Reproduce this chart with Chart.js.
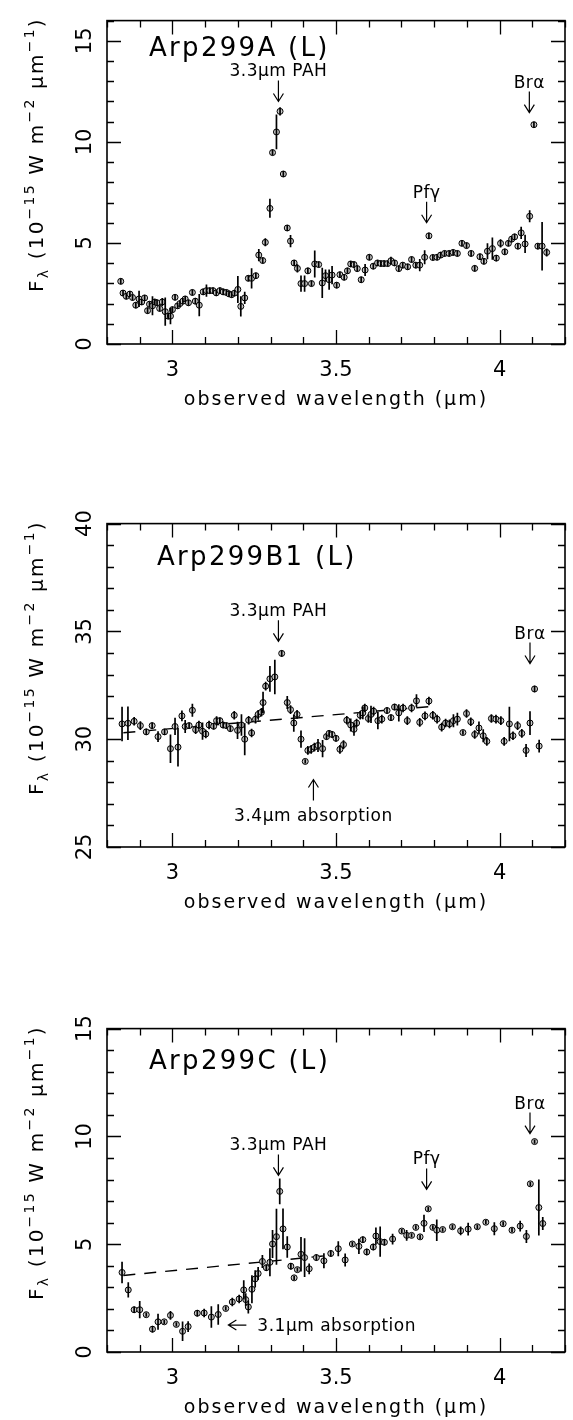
<!DOCTYPE html>
<html>
<head>
<meta charset="utf-8">
<script src="https://cdn.jsdelivr.net/npm/chart.js@4/dist/chart.umd.min.js"></script>
<style>
  html, body { margin: 0; padding: 0; background: #fff; }
  body { position: relative; width: 573px; height: 1420px; overflow: hidden; }
  canvas { position: absolute; left: 0; }
</style>
</head>
<body>
<canvas id="panelA" width="573" height="412" style="top:0px"></canvas>
<canvas id="panelB" width="573" height="412" style="top:503px"></canvas>
<canvas id="panelC" width="573" height="412" style="top:1008px"></canvas>
<script>
// Arp299A (L)
const aWave = [
  2.842, 2.849, 2.859, 2.870, 2.878, 2.888, 2.898, 2.906, 2.915, 2.924,
  2.930, 2.939, 2.946, 2.953, 2.961, 2.969, 2.978, 2.987, 2.994, 3.000,
  3.008, 3.016, 3.023, 3.032, 3.039, 3.049, 3.061, 3.070, 3.082, 3.094,
  3.104, 3.114, 3.124, 3.134, 3.145, 3.155, 3.165, 3.173, 3.181, 3.190,
  3.200, 3.209, 3.221, 3.232, 3.242, 3.255, 3.264, 3.276, 3.284, 3.298,
  3.306, 3.318, 3.329, 3.339, 3.351, 3.361, 3.372, 3.382, 3.393, 3.404,
  3.414, 3.425, 3.435, 3.447, 3.458, 3.468, 3.479, 3.488, 3.502, 3.512,
  3.525, 3.535, 3.545, 3.555, 3.565, 3.577, 3.589, 3.602, 3.614, 3.627,
  3.637, 3.647, 3.658, 3.668, 3.679, 3.692, 3.704, 3.719, 3.731, 3.744,
  3.756, 3.771, 3.784, 3.796, 3.809, 3.820, 3.832, 3.846, 3.858, 3.871,
  3.885, 3.899, 3.913, 3.924, 3.940, 3.952, 3.963, 3.978, 3.990, 4.003,
  4.016, 4.027, 4.037, 4.046, 4.056, 4.066, 4.078, 4.092, 4.105, 4.117,
  4.130, 4.144,
];
const aFlux = [
  3.10, 2.52, 2.36, 2.47, 2.30, 1.92, 2.23, 2.08, 2.28, 1.65,
  1.97, 1.89, 2.08, 2.04, 1.76, 2.08, 1.60, 1.38, 1.38, 1.70,
  2.31, 1.89, 2.00, 2.12, 2.23, 2.04, 2.55, 2.12, 1.92, 2.58,
  2.64, 2.64, 2.64, 2.53, 2.64, 2.58, 2.55, 2.48, 2.44, 2.52,
  2.70, 1.86, 2.28, 3.25, 3.25, 3.38, 4.40, 4.13, 5.03, 6.71,
  9.47, 10.49, 11.51, 8.41, 5.74, 5.09, 4.01, 3.74, 2.99, 2.99,
  3.62, 2.99, 3.96, 3.93, 3.02, 3.38, 3.18, 3.41, 2.91, 3.43,
  3.30, 3.62, 3.96, 3.93, 3.73, 3.18, 3.66, 4.29, 3.85, 4.01,
  3.98, 3.98, 3.98, 4.12, 4.01, 3.73, 3.90, 3.82, 4.18, 3.90,
  3.90, 4.29, 5.35, 4.28, 4.29, 4.40, 4.48, 4.48, 4.53, 4.48,
  4.98, 4.87, 4.48, 3.74, 4.32, 4.09, 4.59, 4.72, 4.25, 4.98,
  4.56, 4.98, 5.19, 5.30, 4.84, 5.50, 4.95, 6.32, 10.85, 4.84,
  4.84, 4.53,
];
const aErr = [
  0.15, 0.15, 0.15, 0.15, 0.15, 0.15, 0.40, 0.15, 0.15, 0.15,
  0.15, 0.47, 0.15, 0.15, 0.15, 0.20, 0.70, 0.15, 0.40, 0.15,
  0.15, 0.15, 0.15, 0.15, 0.15, 0.15, 0.15, 0.15, 0.55, 0.15,
  0.30, 0.15, 0.15, 0.15, 0.15, 0.15, 0.15, 0.15, 0.15, 0.15,
  0.67, 0.50, 0.30, 0.15, 0.50, 0.15, 0.30, 0.15, 0.20, 0.47,
  0.15, 0.86, 0.20, 0.15, 0.15, 0.30, 0.15, 0.20, 0.40, 0.40,
  0.15, 0.15, 0.67, 0.15, 0.75, 0.30, 0.50, 0.45, 0.15, 0.15,
  0.15, 0.15, 0.15, 0.15, 0.15, 0.15, 0.30, 0.15, 0.15, 0.15,
  0.15, 0.15, 0.15, 0.20, 0.15, 0.15, 0.15, 0.15, 0.15, 0.15,
  0.30, 0.35, 0.15, 0.15, 0.15, 0.15, 0.15, 0.15, 0.15, 0.15,
  0.15, 0.15, 0.15, 0.15, 0.15, 0.15, 0.40, 0.55, 0.15, 0.20,
  0.15, 0.15, 0.15, 0.15, 0.15, 0.30, 0.45, 0.30, 0.15, 0.15,
  1.20, 0.20,
];

// Arp299B1 (L)
const bWave = [
  2.846, 2.864, 2.883, 2.902, 2.920, 2.938, 2.956, 2.976, 2.994, 3.008,
  3.017, 3.029, 3.039, 3.051, 3.061, 3.071, 3.081, 3.092, 3.102, 3.112,
  3.126, 3.135, 3.145, 3.155, 3.165, 3.177, 3.189, 3.199, 3.211, 3.221,
  3.233, 3.242, 3.254, 3.262, 3.272, 3.277, 3.285, 3.298, 3.313, 3.334,
  3.351, 3.361, 3.371, 3.381, 3.393, 3.406, 3.414, 3.424, 3.434, 3.445,
  3.459, 3.471, 3.479, 3.488, 3.500, 3.512, 3.523, 3.533, 3.545, 3.555,
  3.563, 3.574, 3.582, 3.588, 3.599, 3.607, 3.615, 3.628, 3.640, 3.656,
  3.668, 3.679, 3.692, 3.705, 3.718, 3.731, 3.746, 3.756, 3.772, 3.784,
  3.796, 3.809, 3.823, 3.835, 3.847, 3.859, 3.871, 3.888, 3.899, 3.912,
  3.924, 3.937, 3.950, 3.961, 3.975, 3.989, 4.004, 4.014, 4.030, 4.041,
  4.055, 4.068, 4.081, 4.093, 4.107, 4.121,
];
const bFlux = [
  30.71, 30.74, 30.83, 30.63, 30.34, 30.63, 30.12, 30.34, 29.56, 30.59,
  29.63, 31.08, 30.59, 30.63, 31.34, 30.44, 30.66, 30.37, 30.24, 30.66,
  30.60, 30.86, 30.86, 30.66, 30.63, 30.49, 31.11, 30.41, 30.66, 30.00,
  30.88, 30.29, 30.93, 31.15, 31.25, 31.70, 32.46, 32.80, 32.89, 33.98,
  31.70, 31.37, 30.75, 31.15, 30.00, 28.97, 29.48, 29.53, 29.63, 29.71,
  29.56, 30.12, 30.27, 30.22, 30.04, 29.53, 29.75, 30.88, 30.66, 30.46,
  30.75, 31.11, 31.22, 31.45, 30.96, 31.15, 31.30, 30.86, 30.93, 31.33,
  31.00, 31.49, 31.22, 31.45, 30.86, 31.45, 31.78, 30.78, 31.08, 31.77,
  31.11, 30.93, 30.56, 30.75, 30.71, 30.86, 30.93, 30.31, 31.19, 30.81,
  30.22, 30.52, 30.16, 29.90, 30.96, 30.93, 30.86, 29.90, 30.71, 30.16,
  30.63, 30.27, 29.48, 30.75, 32.33, 29.68,
];
const bErr = [
  0.80, 0.78, 0.20, 0.20, 0.15, 0.15, 0.25, 0.15, 0.66, 0.40,
  0.90, 0.25, 0.30, 0.15, 0.30, 0.20, 0.20, 0.40, 0.20, 0.20,
  0.15, 0.20, 0.15, 0.15, 0.15, 0.15, 0.20, 0.40, 0.50, 0.74,
  0.20, 0.20, 0.20, 0.20, 0.20, 0.50, 0.20, 0.60, 0.80, 0.15,
  0.30, 0.20, 0.40, 0.20, 0.40, 0.10, 0.20, 0.20, 0.20, 0.30,
  0.40, 0.15, 0.15, 0.15, 0.15, 0.20, 0.20, 0.20, 0.30, 0.30,
  0.20, 0.20, 0.30, 0.20, 0.20, 0.40, 0.20, 0.40, 0.20, 0.15,
  0.15, 0.15, 0.40, 0.20, 0.20, 0.20, 0.30, 0.20, 0.20, 0.20,
  0.20, 0.20, 0.20, 0.20, 0.20, 0.30, 0.30, 0.10, 0.20, 0.20,
  0.20, 0.30, 0.30, 0.20, 0.20, 0.20, 0.20, 0.20, 0.80, 0.20,
  0.20, 0.20, 0.30, 0.55, 0.15, 0.30,
];
const bDashWave = [2.85, 3.80];
const bDashFlux = [30.30, 31.53];

// Arp299C (L)
const cWave = [
  2.846, 2.865, 2.883, 2.900, 2.920, 2.939, 2.956, 2.975, 2.994, 3.012,
  3.031, 3.048, 3.076, 3.097, 3.119, 3.140, 3.163, 3.183, 3.204, 3.218,
  3.224, 3.232, 3.243, 3.253, 3.262, 3.275, 3.287, 3.298, 3.306, 3.318,
  3.328, 3.338, 3.351, 3.362, 3.372, 3.382, 3.393, 3.404, 3.418, 3.440,
  3.463, 3.484, 3.507, 3.528, 3.550, 3.570, 3.582, 3.594, 3.614, 3.622,
  3.635, 3.648, 3.673, 3.701, 3.716, 3.731, 3.744, 3.757, 3.769, 3.782,
  3.796, 3.808, 3.826, 3.856, 3.881, 3.904, 3.932, 3.958, 3.984, 4.011,
  4.038, 4.063, 4.082, 4.094, 4.107, 4.120, 4.132,
];
const cFlux = [
  3.69, 2.88, 1.96, 1.96, 1.73, 1.06, 1.40, 1.40, 1.70, 1.28,
  0.96, 1.18, 1.80, 1.81, 1.62, 1.74, 2.02, 2.32, 2.46, 2.88,
  2.43, 2.09, 2.91, 3.39, 3.64, 4.20, 3.91, 4.16, 5.01, 5.35,
  7.45, 5.71, 4.87, 3.98, 3.44, 3.82, 4.53, 4.38, 3.86, 4.38,
  4.23, 4.57, 4.79, 4.27, 5.01, 4.90, 5.21, 4.64, 4.87, 5.38,
  5.12, 5.09, 5.24, 5.61, 5.41, 5.41, 5.78, 5.34, 5.97, 6.64,
  5.78, 5.65, 5.68, 5.81, 5.62, 5.70, 5.81, 6.02, 5.72, 5.95,
  5.65, 5.84, 5.36, 7.80, 9.76, 6.70, 5.96,
];
const cErr = [
  0.50, 0.35, 0.15, 0.40, 0.10, 0.15, 0.37, 0.10, 0.20, 0.10,
  0.45, 0.25, 0.15, 0.20, 0.50, 0.48, 0.10, 0.20, 0.20, 0.45,
  0.30, 0.30, 0.65, 0.40, 0.30, 0.30, 0.15, 0.65, 0.65, 1.30,
  0.60, 0.95, 0.50, 0.15, 0.10, 0.10, 0.80, 0.90, 0.25, 0.15,
  0.35, 0.15, 0.35, 0.30, 0.10, 0.35, 0.15, 0.15, 0.15, 0.40,
  0.70, 0.15, 0.25, 0.10, 0.25, 0.10, 0.10, 0.10, 0.40, 0.10,
  0.10, 0.50, 0.10, 0.10, 0.20, 0.30, 0.10, 0.10, 0.30, 0.10,
  0.10, 0.25, 0.30, 0.10, 0.10, 1.30, 0.30,
];
const cDashWave = [2.85, 3.46];
const cDashFlux = [3.55, 4.45];

const FONT = '"DejaVu Sans", sans-serif';

// line labels with arrows, anchored at the arrow tip (data units)
const aNotes = [
  { text: '3.3μm PAH', x: 3.324, y: 12.0, dir: 'down' },
  { text: 'Pfγ', x: 3.777, y: 6.0, dir: 'down' },
  { text: 'Brα', x: 4.091, y: 11.45, dir: 'down' },
];
const bNotes = [
  { text: '3.3μm PAH', x: 3.324, y: 34.54, dir: 'down' },
  { text: 'Brα', x: 4.093, y: 33.51, dir: 'down' },
  { text: '3.4μm absorption', x: 3.431, y: 28.13, dir: 'up' },
];
const cNotes = [
  { text: '3.3μm PAH', x: 3.324, y: 8.19, dir: 'down' },
  { text: 'Pfγ', x: 3.777, y: 7.54, dir: 'down' },
  { text: 'Brα', x: 4.093, y: 10.13, dir: 'down' },
  { text: '3.1μm absorption', x: 3.171, y: 1.25, dir: 'left' },
];

const yTitleParts = [
  { t: 'F', s: 'n' }, { t: 'λ', s: 'sub' }, { t: ' (10', s: 'n' }, { t: '−15', s: 'sup' },
  { t: ' W m', s: 'n' }, { t: '−2', s: 'sup' }, { t: ' μm', s: 'n' }, { t: '−1', s: 'sup' },
  { t: ')', s: 'n' },
];

function drawFrame(ctx, xs, ys, area) {
  ctx.save();
  ctx.strokeStyle = '#000';
  ctx.lineWidth = 1.3;
  ctx.beginPath();
  for (let k = 28; k <= 42; k++) {
    const px = Math.round(xs.getPixelForValue(k / 10)) + 0.5;
    const len = k % 5 === 0 ? 14 : 7;
    ctx.moveTo(px, area.bottom); ctx.lineTo(px, area.bottom - len);
    ctx.moveTo(px, area.top); ctx.lineTo(px, area.top + len);
  }
  for (let v = Math.ceil(ys.min); v <= ys.max; v++) {
    const py = Math.round(ys.getPixelForValue(v)) + 0.5;
    const len = v % 5 === 0 ? 14 : 7;
    ctx.moveTo(area.left, py); ctx.lineTo(area.left + len, py);
    ctx.moveTo(area.right, py); ctx.lineTo(area.right - len, py);
  }
  ctx.stroke();
  ctx.lineWidth = 1.6;
  ctx.strokeRect(area.left, area.top, area.right - area.left, area.bottom - area.top);
  ctx.restore();
}

function drawErrors(ctx, xs, ys, wave, flux, err) {
  ctx.save();
  ctx.strokeStyle = '#000';
  ctx.lineWidth = 1.7;
  ctx.beginPath();
  wave.forEach((w, i) => {
    const px = xs.getPixelForValue(w);
    ctx.moveTo(px, ys.getPixelForValue(flux[i] - err[i]));
    ctx.lineTo(px, ys.getPixelForValue(flux[i] + err[i]));
  });
  ctx.stroke();
  ctx.restore();
}

function drawNotes(ctx, xs, ys, notes) {
  ctx.save();
  ctx.strokeStyle = '#000';
  ctx.fillStyle = '#000';
  ctx.lineWidth = 1.2;
  ctx.font = `17px ${FONT}`;
  ctx.letterSpacing = '0.5px';
  ctx.textBaseline = 'alphabetic';
  for (const n of notes) {
    const px = xs.getPixelForValue(n.x);
    const py = ys.getPixelForValue(n.y);
    ctx.beginPath();
    if (n.dir === 'down') {
      ctx.moveTo(px, py - 21); ctx.lineTo(px, py);
      ctx.moveTo(px - 5, py - 8); ctx.lineTo(px, py); ctx.lineTo(px + 5, py - 8);
      ctx.stroke();
      ctx.textAlign = 'center';
      ctx.fillText(n.text, px, py - 25);
    } else if (n.dir === 'up') {
      ctx.moveTo(px, py + 21); ctx.lineTo(px, py);
      ctx.moveTo(px - 5, py + 8); ctx.lineTo(px, py); ctx.lineTo(px + 5, py + 8);
      ctx.stroke();
      ctx.textAlign = 'center';
      ctx.fillText(n.text, px, py + 41);
    } else {
      ctx.moveTo(px + 18, py); ctx.lineTo(px, py);
      ctx.moveTo(px + 8, py - 5); ctx.lineTo(px, py); ctx.lineTo(px + 8, py + 5);
      ctx.stroke();
      ctx.textAlign = 'left';
      ctx.fillText(n.text, px + 29, py + 6);
    }
  }
  ctx.restore();
}

function drawTitles(ctx, area, name, nameDx, nameDy) {
  ctx.save();
  ctx.fillStyle = '#000';
  ctx.textBaseline = 'alphabetic';

  // panel name
  ctx.font = `26px ${FONT}`;
  ctx.letterSpacing = '2.3px';
  ctx.textAlign = 'left';
  ctx.fillText(name, area.left + nameDx, area.top + nameDy);

  // x title
  ctx.font = `19px ${FONT}`;
  ctx.letterSpacing = '2px';
  ctx.textAlign = 'center';
  ctx.fillText('observed wavelength (μm)', (area.left + area.right) / 2, area.bottom + 61);

  // y title, rotated, with sub/superscripts
  ctx.translate(43, area.bottom - 52);
  ctx.rotate(-Math.PI / 2);
  ctx.textAlign = 'left';
  ctx.letterSpacing = '2.2px';
  let cx = 0;
  for (const p of yTitleParts) {
    const size = p.s === 'n' ? 20 : 14;
    const dy = p.s === 'sup' ? -9 : p.s === 'sub' ? 5 : 0;
    ctx.font = `${size}px ${FONT}`;
    ctx.fillText(p.t, cx, dy);
    cx += ctx.measureText(p.t).width;
  }
  ctx.restore();
}

function makePanel(id, opts) {
  const points = opts.wave.map((w, i) => ({ x: w, y: opts.flux[i] }));
  const datasets = [{
    data: points,
    showLine: false,
    pointStyle: 'circle',
    pointRadius: 3,
    pointBorderWidth: 1,
    pointBorderColor: '#000',
    pointBackgroundColor: '#c8c8c8',
    order: 0,
  }];
  if (opts.dashWave) {
    datasets.push({
      type: 'line',
      data: opts.dashWave.map((w, i) => ({ x: w, y: opts.dashFlux[i] })),
      borderColor: '#000',
      borderWidth: 1.4,
      borderDash: [12, 9],
      pointRadius: 0,
      fill: false,
      order: 1,
    });
  }
  const tickFmt = (v) => String(Math.round(v * 10) / 10);

  new Chart(document.getElementById(id), {
    type: 'scatter',
    data: { datasets },
    options: {
      responsive: false,
      animation: false,
      events: [],
      layout: { padding: { top: 5, right: 8, bottom: 0, left: 0 } },
      plugins: { legend: { display: false }, tooltip: { enabled: false } },
      scales: {
        x: {
          type: 'linear',
          min: 2.8,
          max: 4.2,
          grid: { display: false, drawTicks: false },
          border: { display: false },
          ticks: {
            stepSize: 0.5,
            includeBounds: false,
            maxRotation: 0,
            autoSkip: false,
            padding: 14,
            color: '#000',
            font: { family: FONT, size: 21 },
            callback: tickFmt,
          },
          afterFit: (s) => { s.height = 68; },
        },
        y: {
          type: 'linear',
          min: opts.yMin,
          max: opts.yMax,
          grid: { display: false, drawTicks: false },
          border: { display: false },
          ticks: {
            stepSize: 5,
            includeBounds: false,
            minRotation: 90,
            maxRotation: 90,
            crossAlign: 'center',
            padding: 8,
            color: '#000',
            font: { family: FONT, size: 21 },
            callback: tickFmt,
          },
          afterFit: (s) => { s.width = 107; },
        },
      },
    },
    plugins: [{
      id: 'spectrumDecor',
      afterDatasetsDraw(chart) {
        const { ctx, chartArea, scales: { x, y } } = chart;
        drawErrors(ctx, x, y, opts.wave, opts.flux, opts.err);
        drawFrame(ctx, x, y, chartArea);
        drawNotes(ctx, x, y, opts.notes);
        drawTitles(ctx, chartArea, opts.name, opts.nameDx, opts.nameDy);
      },
    }],
  });
}

makePanel('panelA', {
  wave: aWave, flux: aFlux, err: aErr, yMin: 0, yMax: 16,
  notes: aNotes, name: 'Arp299A (L)', nameDx: 42, nameDy: 35,
});
makePanel('panelB', {
  wave: bWave, flux: bFlux, err: bErr, yMin: 25, yMax: 40,
  dashWave: bDashWave, dashFlux: bDashFlux,
  notes: bNotes, name: 'Arp299B1 (L)', nameDx: 50, nameDy: 41,
});
makePanel('panelC', {
  wave: cWave, flux: cFlux, err: cErr, yMin: 0, yMax: 15,
  dashWave: cDashWave, dashFlux: cDashFlux,
  notes: cNotes, name: 'Arp299C (L)', nameDx: 42, nameDy: 40,
});
</script>
</body>
</html>
